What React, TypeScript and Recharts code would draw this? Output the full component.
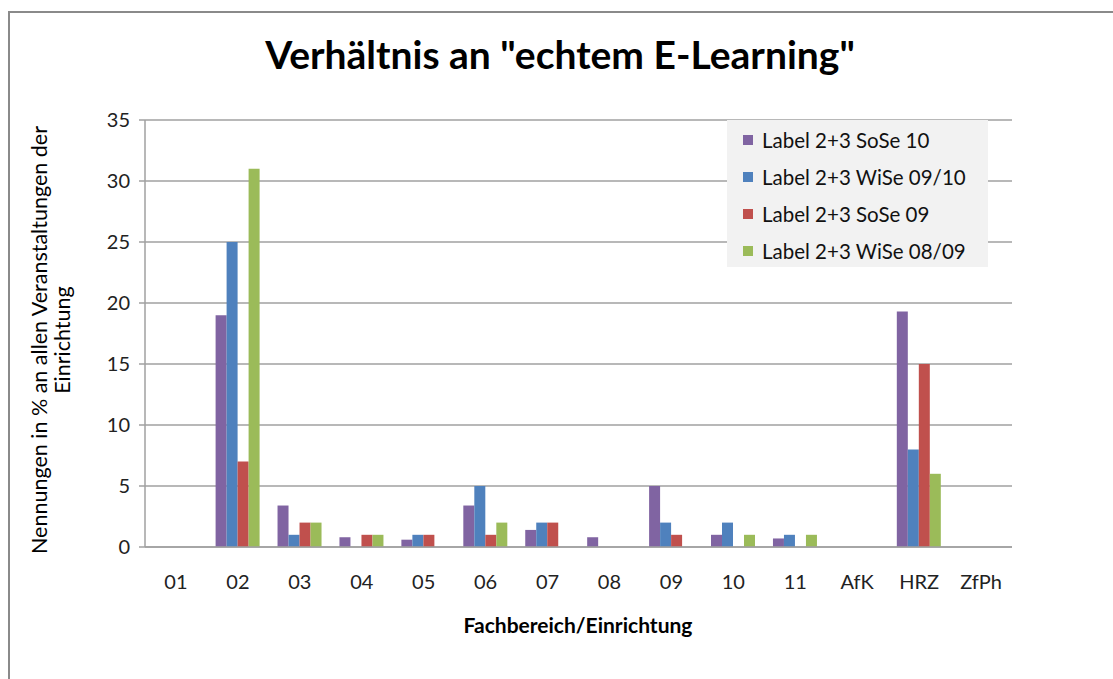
import { Bar, BarChart, CartesianGrid, Legend, XAxis, YAxis } from "recharts";

const categories = ["01", "02", "03", "04", "05", "06", "07", "08", "09", "10", "11", "AfK", "HRZ", "ZfPh"];
const sose10 = [0, 19, 3.4, 0.8, 0.6, 3.4, 1.4, 0.8, 5, 1, 0.7, 0, 19.3, 0];
const wise0910 = [0, 25, 1, 0, 1, 5, 2, 0, 2, 2, 1, 0, 8, 0];
const sose09 = [0, 7, 2, 1, 1, 1, 2, 0, 1, 0, 0, 0, 15, 0];
const wise0809 = [0, 31, 2, 1, 0, 2, 0, 0, 0, 1, 1, 0, 6, 0];
const yTicks = [0, 5, 10, 15, 20, 25, 30, 35];

const series = [
  { key: "sose10", name: "Label 2+3 SoSe 10", color: "#8064A2" },
  { key: "wise0910", name: "Label 2+3 WiSe 09/10", color: "#4F81BD" },
  { key: "sose09", name: "Label 2+3 SoSe 09", color: "#C0504D" },
  { key: "wise0809", name: "Label 2+3 WiSe 08/09", color: "#9BBB59" },
];

const rows = categories.map((name, i) => ({
  name,
  sose10: sose10[i],
  wise0910: wise0910[i],
  sose09: sose09[i],
  wise0809: wise0809[i],
}));

const font = "Lato, 'Open Sans', sans-serif";

function LegendBox() {
  return (
    <div style={{ background: "#f2f2f2", width: 261, height: 147, boxSizing: "border-box", padding: "1px 0 0 16px" }}>
      {series.map((s) => (
        <div key={s.key} style={{ display: "flex", alignItems: "center", height: 37, fontFamily: font, fontSize: 20.5, color: "#111" }}>
          <span style={{ width: 10, height: 10, background: s.color, marginRight: 9, display: "inline-block" }} />
          {s.name}
        </div>
      ))}
    </div>
  );
}

export default function App() {
  return (
    <div style={{ position: "absolute", left: 0, top: 0, width: 1113, height: 679, background: "#fff", overflow: "hidden", fontFamily: font }}>
      <div style={{ position: "absolute", left: 8, top: 11, width: 1200, height: 800, borderLeft: "2px solid #8a8a8a", borderTop: "2px solid #8a8a8a" }} />
      <div style={{ position: "absolute", left: 0, top: 31, width: 1120, textAlign: "center", fontSize: 39, fontWeight: 700, color: "#000" }}>
        Verhältnis an "echtem E-Learning"
      </div>
      <div style={{ position: "absolute", left: 0, top: 612, width: 1156, textAlign: "center", fontSize: 21, fontWeight: 700, color: "#000" }}>
        Fachbereich/Einrichtung
      </div>
      <div
        style={{
          position: "absolute",
          left: 51,
          top: 340,
          width: 520,
          transform: "translate(-50%, -50%) rotate(-90deg)",
          textAlign: "center",
          fontSize: 21.5,
          lineHeight: "23px",
          color: "#000",
        }}
      >
        Nennungen in % an allen Veranstaltungen der
        <br />
        Einrichtung
      </div>
      <BarChart
        width={1113}
        height={679}
        data={rows}
        margin={{ top: 120, right: 101, bottom: 102, left: 85 }}
        barCategoryGap="14%"
        barGap={0}
        style={{ position: "absolute", left: 0, top: 0 }}
      >
        <CartesianGrid vertical={false} stroke="#a0a0a0" strokeWidth={1.5} />
        <XAxis
          dataKey="name"
          height={30}
          tickLine={false}
          stroke="#a0a0a0"
          strokeWidth={1.5}
          tickMargin={22}
          tick={{ fontSize: 20, fill: "#222", fontFamily: font }}
          interval={0}
        />
        <YAxis
          width={60}
          domain={[0, 35]}
          ticks={yTicks}
          stroke="#a0a0a0"
          strokeWidth={1.5}
          tickSize={6}
          tickMargin={9}
          tick={{ fontSize: 20, fill: "#222", fontFamily: font }}
        />
        <Legend
          layout="vertical"
          align="center"
          verticalAlign="middle"
          wrapperStyle={{ left: 727, top: 120, width: 261, height: 147 }}
          content={() => <LegendBox />}
        />
        {series.map((s) => (
          <Bar key={s.key} dataKey={s.key} name={s.name} fill={s.color} isAnimationActive={false} />
        ))}
      </BarChart>
    </div>
  );
}
